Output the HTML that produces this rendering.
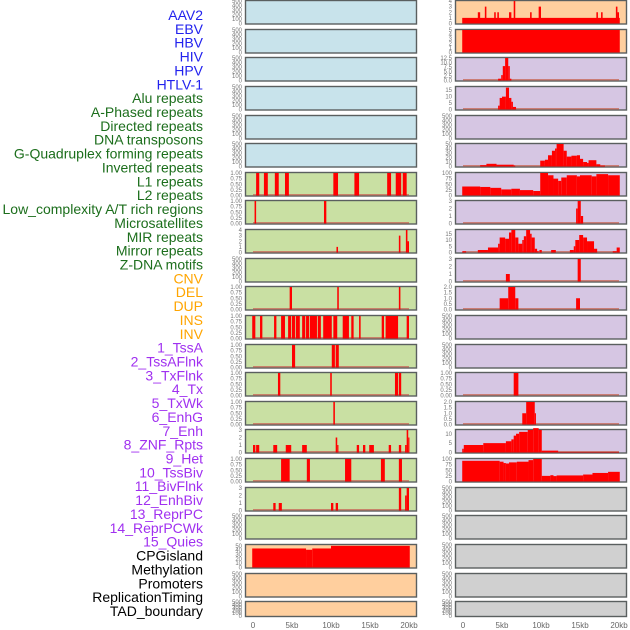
<!DOCTYPE html>
<html><head><meta charset="utf-8"><style>
html,body{margin:0;padding:0;background:#fff;width:630px;height:630px;overflow:hidden}
svg{display:block;font-family:"Liberation Sans",sans-serif}
</style></head><body>
<svg id="c" width="630" height="630"></svg>
<script>
const labels=["AAV2","EBV","HBV","HIV","HPV","HTLV-1","Alu repeats","A-Phased repeats","Directed repeats","DNA transposons","G-Quadruplex forming repeats","Inverted repeats","L1 repeats","L2 repeats","Low_complexity A/T rich regions","Microsatellites","MIR repeats","Mirror repeats","Z-DNA motifs","CNV","DEL","DUP","INS","INV","1_TssA","2_TssAFlnk","3_TxFlnk","4_Tx","5_TxWk","6_EnhG","7_Enh","8_ZNF_Rpts","9_Het","10_TssBiv","11_BivFlnk","12_EnhBiv","13_ReprPC","14_ReprPCWk","15_Quies","CPGisland","Methylation","Promoters","ReplicationTiming","TAD_boundary"];
const labelColors=["#2222ee","#1c6e1c","#ffa500","#a030f0","#000"];
const labelGroups=[6,13,5,15,5];
const xTicks=[0,5,10,15,20];
const xTickLabels=["0","5kb","10kb","15kb","20kb"];
// left column data [startKb,endKb,value]
const L6=[[0.4,0.8,1],[1.4,1.9,1],[2.8,3.3,1],[4.1,4.6,1],[10.3,10.9,1],[13,13.6,1],[17.2,17.7,1],[18.3,19,1],[19.2,19.7,1]];
const L7=[[0.2,0.4,1],[9.1,9.4,1]];
const L8=[[10.7,10.9,1],[18.7,18.9,3],[19.6,19.8,4],[19.8,20,2]];
const L10=[[4.7,5.0,1],[10.8,11.0,1],[18.7,18.9,1]];
const L11=[[-0.1,0.3,1],[0.9,1.2,1],[2.7,3.0,1],[3.6,4.1,1],[4.5,4.9,1],[5.0,5.4,1],[5.5,6.0,1],[6.3,6.7,1],[6.8,7.2,1],[7.3,8.2,1],[8.3,8.7,1],[9.0,10.1,1],[10.3,10.8,1],[11.5,12.3,1],[12.6,12.9,1],[13.6,13.8,1],[16.5,16.8,1],[17.0,18.6,1],[19.7,20.0,1]];
const L12=[[5.0,5.4,1],[10.1,10.5,1],[10.6,11.0,1]];
const L13=[[3.2,3.5,1],[9.9,10.1,1],[18.2,18.6,1],[18.7,19.0,1]];
const L14=[[10.3,10.5,1]];
const L15=[[0,0.3,1],[0.4,0.8,1],[2.6,3.1,1],[4.2,4.9,1],[6.3,6.9,1],[10.6,10.8,2],[10.8,10.9,1],[13.3,13.6,1],[14.1,14.4,1],[14.9,15.5,1],[17.4,17.7,1],[18.7,19.0,1],[19.5,19.7,1],[19.7,19.9,3],[19.9,20.0,2]];
const L16=[[3.6,4.7,1],[6.9,7.3,1],[11.8,12.6,1],[16.4,16.9,1],[18.7,19.1,1]];
const L17=[[2.6,2.9,1],[3.3,3.7,1],[10.0,10.3,1],[10.6,10.9,1],[18.7,19.0,3],[19.5,19.7,2],[19.7,20.0,3]];
const L19=[[-0.1,6.8,44],[6.8,7.6,41],[7.6,10,44],[10,20.1,50]];
// right column
const R0=[[-0.1,20.1,1],[1.9,2.2,2],[2.8,3.0,3],[4.0,4.2,2],[4.4,4.6,2],[5.9,6.2,2],[6.5,6.7,4],[8.6,8.8,2],[9.7,10.0,3],[17.1,17.3,2],[17.7,17.9,2],[19.6,19.8,3],[19.8,20.0,2]];
const R1=[[-0.1,20.1,5]];
const R2=[[4.5,4.9,1],[4.9,5.1,3],[5.1,5.4,8],[5.4,5.8,12.5],[5.8,6.0,8],[6.0,6.2,1]];
const R3=[[4.5,4.7,3],[4.7,5.0,9],[5.0,5.5,10],[5.5,5.9,17],[5.9,6.2,9],[6.2,6.4,6],[6.4,6.8,2]];
const R5=[[2.2,3.0,3],[3.0,4.3,6],[4.3,6.5,4],[6.5,6.7,2],[9.9,10.5,13],[10.5,10.9,15],[10.9,11.4,25],[11.4,11.8,35],[11.8,12.0,40],[12.0,12.9,50],[12.9,13.3,35],[13.3,13.9,22],[13.9,14.6,24],[14.6,15.0,25],[15.0,15.4,17],[15.4,15.9,10],[15.9,16.1,8],[16.1,17.1,14],[17.1,17.6,5],[17.6,18.2,2]];
const R6=[[-0.1,2.2,40],[2.2,3.5,38],[3.5,4.9,34],[4.9,6.2,27],[6.2,7.3,30],[7.3,9.0,24],[9.0,9.9,20],[9.9,10.9,100],[10.9,11.6,90],[11.6,12.2,75],[12.2,12.6,65],[12.6,13.3,80],[13.3,14.6,90],[14.6,15.0,85],[15.0,16.5,90],[16.5,17.1,85],[17.1,18.6,95],[18.6,20.1,90]];
const R7=[[14.5,14.7,2],[14.7,15.1,3],[15.1,15.4,1]];
const R8=[[-0.1,0.4,1],[1.9,3.2,2],[3.2,4.5,4],[4.5,4.7,7],[4.7,5.4,12],[5.4,5.9,11],[5.9,6.2,16],[6.2,6.7,18],[6.7,7.1,12],[7.1,7.6,7],[7.6,7.8,10],[7.8,8.1,13],[8.1,8.6,18],[8.6,8.8,15],[8.8,9.2,12],[9.2,9.5,3],[9.5,9.7,1],[9.8,10.1,2],[11.3,11.9,2],[13.7,14.2,2],[14.2,14.4,5],[14.4,14.9,10],[14.9,15.4,14],[15.4,15.9,12],[15.9,16.8,9],[16.8,17.2,3],[19.2,19.7,1],[19.7,20.1,4]];
const R9=[[5.5,6.0,1],[14.7,15.1,3]];
const R10=[[4.7,5.8,1],[5.8,6.7,2],[6.7,7.1,1],[14.5,15.0,1]];
const R13=[[6.5,7.1,1]];
const R14=[[7.6,8.1,1],[8.1,9.2,2],[9.2,9.3,1]];
const R15=[[-0.1,0.1,2],[0.1,2.6,4],[2.6,5.5,5],[5.5,6.2,6],[6.2,6.5,7],[6.5,6.8,9],[6.8,7.2,10],[7.2,8.3,11],[8.3,9.0,12],[9.0,9.7,13],[9.7,10.1,12],[10.1,12.2,1],[12.2,20.0,0.3]];
const R16=[[-0.1,4.7,92],[4.7,5.2,88],[5.2,5.5,82],[5.5,5.9,80],[5.9,6.9,85],[6.9,8.4,88],[8.4,9.0,95],[9.0,10.1,100],[10.1,11.2,25],[11.2,11.6,28],[11.6,12.0,24],[12.0,15.4,27],[15.4,16.6,31],[16.6,18.6,38],[18.6,20.1,43]];
const leftData=[null,null,null,null,null,null,L6,L7,L8,null,L10,L11,L12,L13,L14,L15,L16,L17,null,L19,null,null];
const rightData=[R0,R1,R2,R3,null,R5,R6,R7,R8,R9,R10,null,null,R13,R14,R15,R16,null,null,null,null,null];
const leftMax=[500,500,500,500,500,500,1,1,4,500,1,1,1,1,1,3,1,3,500,52,500,500];
const rightMax=[4,5,12.5,17.5,500,50,100,3,18,3,2,500,500,1,2,12,100,500,500,500,500,500];
const leftTicks=[null,null,null,null,null,null,null,null,[0,1,2,3,4],null,null,null,null,null,null,[0,1,2,3],null,[0,1,2,3],null,[0,10,20,30,40,50],null,null];
const rightTicks=[[0,1,2,3,4],[0,1,2,3,4,5],["0.0","2.5","5.0","7.5","10.0","12.5"],[0,5,10,15],null,[0,10,20,30,40,50],[0,25,50,75,100],[0,1,2,3],[0,5,10,15],[0,1,2,3],["0.0","0.5","1.0","1.5","2.0"],null,null,null,["0.0","0.5","1.0","1.5","2.0"],[0,5,10],[0,25,50,75,100],null,null,null,null,null];
const leftBg=["#c8e3eb","#c8e3eb","#c8e3eb","#c8e3eb","#c8e3eb","#c8e3eb","#c9e0a3","#c9e0a3","#c9e0a3","#c9e0a3","#c9e0a3","#c9e0a3","#c9e0a3","#c9e0a3","#c9e0a3","#c9e0a3","#c9e0a3","#c9e0a3","#c9e0a3","#ffcf9e","#ffcf9e","#ffcf9e"];
const rightBg=["#ffcf9e","#ffcf9e","#d6c6e3","#d6c6e3","#d6c6e3","#d6c6e3","#d6c6e3","#d6c6e3","#d6c6e3","#d6c6e3","#d6c6e3","#d6c6e3","#d6c6e3","#d6c6e3","#d6c6e3","#d6c6e3","#d6c6e3","#d0d0d0","#d0d0d0","#d0d0d0","#d0d0d0","#d0d0d0"];

const NS="http://www.w3.org/2000/svg";
const svg=document.getElementById('c');
function mk(tag,attrs,parent){const e=document.createElementNS(NS,tag);for(const k in attrs)e.setAttribute(k,attrs[k]);(parent||svg).appendChild(e);return e;}
// labels
let gi=0,cnt=0;
labels.forEach((t,i)=>{
  const el=mk('text',{x:203,y:15+i*13.86+5,'text-anchor':'end','font-size':14,fill:labelColors[gi]});
  
  
  el.textContent=t;
  cnt++;if(cnt>=labelGroups[gi]){gi++;cnt=0;}
});
function xScale(col,kb){const x0=col===0?253:463;return x0+kb*7.8;}
function fmtTicks(max){
  if(max===500)return [0,100,200,300,400,500];
  if(max===1)return ["0.00","0.25","0.50","0.75","1.00"];
  return [0,max];
}
function drawPanel(col,i,data,max,bg,ticks){
  const left=col===0?245:455, w=172;
  const top=Math.round(i*28.63), h=i===21?16:24.5;
  const g=mk('g',{});
  
  
  const r=mk('rect',{x:left+0.5,y:top+0.5,width:w-1,height:h-1,fill:bg,stroke:'#5a5f5f','stroke-width':1.4},g);
  
  
  const yS=v=>top+h-1-(v/max)*(h-2);
  const tk=ticks||fmtTicks(max);
  tk.forEach(t=>{
    const tt=mk('text',{x:left-3,y:yS(parseFloat(t))+2,'text-anchor':'end','font-size':6,fill:'#777'},g);
    
    
    tt.textContent=t;
  });
  if(data){
    const base=mk('rect',{x:xScale(col,0),y:top+h-2.5,width:xScale(col,20)-xScale(col,0),height:1.5,fill:'#c86a5a',opacity:0.8},g);
    
    
    data.forEach(d=>{
      const x1=xScale(col,d[0]),x2=xScale(col,d[1]);
      const b=mk('rect',{x:x1,y:yS(d[2]),width:Math.max(1.2,x2-x1),height:yS(0)-yS(d[2]),fill:'#ff0000'},g);
      
      
    });
  }
}
for(let i=0;i<22;i++){
  drawPanel(0,i,leftData[i],leftMax[i],leftBg[i],leftTicks[i]);
  drawPanel(1,i,rightData[i],rightMax[i],rightBg[i],rightTicks[i]);
}
[0,1].forEach(col=>{
  xTicks.forEach((t,j)=>{
    const tx=mk('text',{x:xScale(col,t),y:628,'text-anchor':'middle','font-size':8,fill:'#666'});
    
    
    tx.textContent=xTickLabels[j];
  });
});
</script>
</body></html>
